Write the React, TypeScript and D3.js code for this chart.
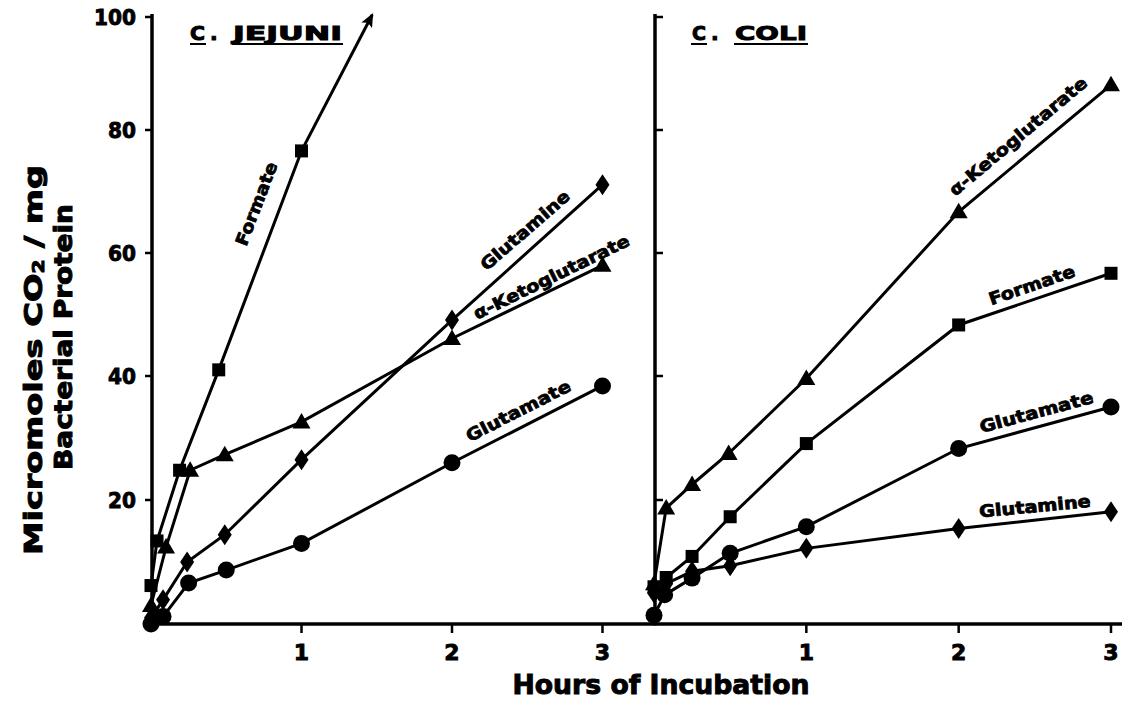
import React from 'react';
import * as d3 from 'd3';

// ---------- data ----------
const hourTicks = [1, 2, 3];
const yTickValues = [20, 40, 60, 80, 100];
const yTickLabels = ['20', '40', '60', '80', '100'];

// C. jejuni
const jejFormateT = [0, 0.04, 0.19, 0.45, 1.0];
const jejFormateV = [6.2, 13.4, 24.8, 41.0, 76.6];
const jejFormateArrowTip = [1.47, 100.4];
const jejKetoT = [0, 0.1, 0.26, 0.49, 1, 2, 3];
const jejKetoV = [3.0, 12.4, 24.8, 27.3, 32.6, 46.1, 58.0];
const jejGlnT = [0, 0.08, 0.24, 0.49, 1, 2, 3];
const jejGlnV = [1.0, 3.9, 10.0, 14.4, 26.5, 49.1, 71.1];
const jejGluT = [0, 0.08, 0.25, 0.5, 1, 2, 3];
const jejGluV = [0, 1.2, 6.6, 8.7, 13.0, 26.0, 38.4];

// C. coli
const coliKetoT = [0, 0.08, 0.25, 0.49, 1, 2, 3];
const coliKetoV = [6.5, 18.7, 22.5, 27.5, 39.6, 66.7, 88.0];
const coliFormateT = [0, 0.08, 0.25, 0.5, 1, 2, 3];
const coliFormateV = [6.0, 7.5, 10.9, 17.3, 29.1, 48.3, 56.7];
const coliGluT = [0, 0.07, 0.25, 0.5, 1, 2, 3];
const coliGluV = [1.4, 4.7, 7.4, 11.4, 15.7, 28.3, 35.0];
const coliGlnT = [0, 0.08, 0.25, 0.5, 1, 2, 3];
const coliGlnV = [5.0, 6.5, 8.5, 9.4, 12.2, 15.4, 18.1];

// series labels
const labelPanels = ['L', 'L', 'L', 'L', 'R', 'R', 'R', 'R'];
const labelTexts = ['Formate', 'Glutamine', 'α-Ketoglutarate', 'Glutamate', 'α-Ketoglutarate', 'Formate', 'Glutamate', 'Glutamine'];
const labelT = [0.70, 2.485, 2.66, 2.44, 2.39, 2.48, 2.51, 2.50];
const labelV = [68.0, 63.7, 56.1, 34.4, 79.0, 54.8, 34.2, 19.0];
const labelAngle = [-69, -41, -26, -27, -40, -19, -15, -5.5];
const labelLen = [88, 112, 171, 115, 174, 90, 117, 112];

type Marker = 'circle' | 'square' | 'triangle' | 'diamond';
type Series = { marker: Marker; t: number[]; v: number[]; arrow?: number[] };

const leftSeries: Series[] = [
  { marker: 'square', t: jejFormateT, v: jejFormateV, arrow: jejFormateArrowTip },
  { marker: 'triangle', t: jejKetoT, v: jejKetoV },
  { marker: 'diamond', t: jejGlnT, v: jejGlnV },
  { marker: 'circle', t: jejGluT, v: jejGluV },
];
const rightSeries: Series[] = [
  { marker: 'triangle', t: coliKetoT, v: coliKetoV },
  { marker: 'square', t: coliFormateT, v: coliFormateV },
  { marker: 'circle', t: coliGluT, v: coliGluV },
  { marker: 'diamond', t: coliGlnT, v: coliGlnV },
];

// ---------- layout ----------
const W = 1125;
const H = 702;
const FONT = "'DejaVu Sans', 'Liberation Sans', Arial, sans-serif";

const y = d3.scaleLinear().domain([0, 20, 40, 60, 80, 100]).range([624, 500, 376, 253, 130, 17]);
const xL = d3.scaleLinear().domain([0, 3]).range([151, 602.5]);
const xR = d3.scaleLinear().domain([0, 3]).range([654, 1111]);

function MarkerShape({ kind, cx, cy }: { kind: Marker; cx: number; cy: number }) {
  if (kind === 'circle') return <circle cx={cx} cy={cy} r={8.5} fill="#000" />;
  if (kind === 'square') return <rect x={cx - 6.5} y={cy - 6.5} width={13} height={13} fill="#000" />;
  if (kind === 'triangle')
    return <polygon points={`${cx},${cy - 9} ${cx + 9},${cy + 6.5} ${cx - 9},${cy + 6.5}`} fill="#000" />;
  return <polygon points={`${cx},${cy - 10.5} ${cx + 7},${cy} ${cx},${cy + 10.5} ${cx - 7},${cy}`} fill="#000" />;
}

function Panel({ series, x }: { series: Series[]; x: d3.ScaleLinear<number, number> }) {
  const line = d3
    .line<[number, number]>()
    .x((d) => x(d[0]))
    .y((d) => y(d[1]));
  return (
    <g>
      {series.map((s, i) => {
        const pts: [number, number][] = s.t.map((t, j) => [t, s.v[j]]);
        const last = pts[pts.length - 1];
        return (
          <g key={i}>
            <path d={line(pts) || ''} fill="none" stroke="#000" strokeWidth={3} />
            {s.arrow && (
              <path
                d={line([last, [s.arrow[0], s.arrow[1]]]) || ''}
                fill="none"
                stroke="#000"
                strokeWidth={3}
                markerEnd="url(#arrowHead)"
              />
            )}
            {pts.map((p, j) => (
              <MarkerShape key={j} kind={s.marker} cx={x(p[0])} cy={y(p[1])} />
            ))}
          </g>
        );
      })}
    </g>
  );
}

export default function App() {
  const leftAxisX = 152;
  const rightAxisX = 655;
  const baseY = 624;
  const boldText = { fontFamily: FONT, fontWeight: 'bold' as const, fill: '#000', stroke: '#000' };

  return (
    <svg
      width={W}
      height={H}
      viewBox={`0 0 ${W} ${H}`}
      style={{ position: 'absolute', left: 0, top: 0, background: '#fff' }}
    >
      <defs>
        <marker id="arrowHead" viewBox="0 0 14 12" refX="12" refY="6" markerWidth="14" markerHeight="12" markerUnits="userSpaceOnUse" orient="auto">
          <path d="M0,0 L14,6 L0,12 L3,6 z" fill="#000" />
        </marker>
      </defs>
      <rect x={0} y={0} width={W} height={H} fill="#fff" />

      {/* axes */}
      <line x1={leftAxisX} y1={14} x2={leftAxisX} y2={baseY + 1.5} stroke="#000" strokeWidth={3.5} />
      <line x1={rightAxisX} y1={14} x2={rightAxisX} y2={baseY + 1.5} stroke="#000" strokeWidth={3.5} />
      <line x1={leftAxisX - 1.5} y1={baseY} x2={1122} y2={baseY} stroke="#000" strokeWidth={3.5} />

      {/* y ticks */}
      {yTickValues.map((v, i) => (
        <g key={'yt' + i}>
          <line x1={leftAxisX - 7} y1={y(v)} x2={leftAxisX} y2={y(v)} stroke="#000" strokeWidth={2.5} />
          <line x1={rightAxisX} y1={y(v)} x2={rightAxisX + 8} y2={y(v)} stroke="#000" strokeWidth={2.5} />
          <text
            x={136}
            y={y(v)}
            textAnchor="end"
            dominantBaseline="central"
            fontSize={22}
            textLength={yTickLabels[i].length * 14}
            lengthAdjust="spacingAndGlyphs"
            strokeWidth={0.9}
            {...boldText}
          >
            {yTickLabels[i]}
          </text>
        </g>
      ))}

      {/* x ticks */}
      {hourTicks.map((h) => (
        <g key={'xt' + h}>
          <line x1={xL(h)} y1={baseY} x2={xL(h)} y2={baseY + 9} stroke="#000" strokeWidth={2.5} />
          <line x1={xR(h)} y1={baseY} x2={xR(h)} y2={baseY + 9} stroke="#000" strokeWidth={2.5} />
          <text x={xL(h)} y={652} textAnchor="middle" dominantBaseline="central" fontSize={22} strokeWidth={0.9} {...boldText}>
            {h}
          </text>
          <text x={xR(h)} y={652} textAnchor="middle" dominantBaseline="central" fontSize={22} strokeWidth={0.9} {...boldText}>
            {h}
          </text>
        </g>
      ))}

      {/* data */}
      <Panel series={leftSeries} x={xL} />
      <Panel series={rightSeries} x={xR} />

      {/* series labels */}
      {labelTexts.map((txt, i) => {
        const sx = labelPanels[i] === 'L' ? xL : xR;
        const cx = sx(labelT[i]);
        const cy = y(labelV[i]);
        return (
          <text
            key={'lb' + i}
            transform={`translate(${cx},${cy}) rotate(${labelAngle[i]})`}
            textAnchor="middle"
            dominantBaseline="central"
            fontSize={17}
            textLength={labelLen[i]}
            lengthAdjust="spacingAndGlyphs"
            strokeWidth={0.8}
            {...boldText}
          >
            {txt}
          </text>
        );
      })}

      {/* panel titles */}
      <g>
        <text x={190} y={40} fontSize={20} textLength={15} lengthAdjust="spacingAndGlyphs" strokeWidth={1} {...boldText}>C</text>
        <text x={210} y={40} fontSize={20} strokeWidth={1} {...boldText}>.</text>
        <text x={233} y={40} fontSize={20} textLength={109} lengthAdjust="spacingAndGlyphs" strokeWidth={1} {...boldText}>JEJUNI</text>
        <line x1={190} y1={44} x2={206} y2={44} stroke="#000" strokeWidth={2} />
        <line x1={232} y1={44} x2={343} y2={44} stroke="#000" strokeWidth={2} />

        <text x={692} y={40} fontSize={20} textLength={14} lengthAdjust="spacingAndGlyphs" strokeWidth={1} {...boldText}>C</text>
        <text x={711} y={40} fontSize={20} strokeWidth={1} {...boldText}>.</text>
        <text x={735} y={40} fontSize={20} textLength={72} lengthAdjust="spacingAndGlyphs" strokeWidth={1} {...boldText}>COLI</text>
        <line x1={691} y1={44} x2={707} y2={44} stroke="#000" strokeWidth={2} />
        <line x1={734} y1={44} x2={808} y2={44} stroke="#000" strokeWidth={2} />
      </g>

      {/* axis titles */}
      <text
        transform="translate(42,360) rotate(-90)"
        textAnchor="middle"
        fontSize={25}
        textLength={390}
        lengthAdjust="spacingAndGlyphs"
        strokeWidth={1}
        {...boldText}
      >
        Micromoles CO<tspan fontSize={15} dy={2}>2</tspan>
        <tspan dy={-2}> / mg</tspan>
      </text>
      <text
        transform="translate(72,337) rotate(-90)"
        textAnchor="middle"
        fontSize={25}
        textLength={266}
        lengthAdjust="spacingAndGlyphs"
        strokeWidth={1}
        {...boldText}
      >
        Bacterial Protein
      </text>
      <text
        x={661}
        y={694}
        textAnchor="middle"
        fontSize={27}
        textLength={297}
        lengthAdjust="spacingAndGlyphs"
        strokeWidth={1}
        {...boldText}
      >
        Hours of Incubation
      </text>
    </svg>
  );
}
